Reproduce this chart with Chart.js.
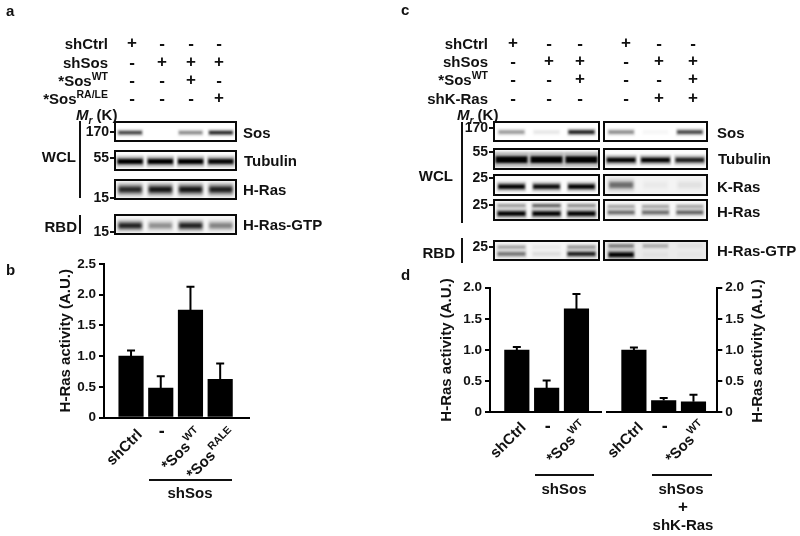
<!DOCTYPE html>
<html><head><meta charset="utf-8">
<script src="https://cdn.jsdelivr.net/npm/chart.js@4"></script>
<style>
html,body{margin:0;padding:0;background:#fff;overflow:hidden}
#page{position:relative;width:800px;height:536px;overflow:hidden;filter:blur(.3px)}
canvas{position:absolute;left:0;top:0}
.t{position:absolute;font:bold 15px "Liberation Sans",Arial,sans-serif;line-height:1;color:#111;white-space:nowrap}
.t sup{font-size:10.5px;line-height:0;vertical-align:baseline;position:relative;top:-6px}
.r{position:absolute;background:#111}
</style></head><body><div id="page"></div>
<script>
// ---- bar data ----
const labelsB=['shCtrl','-','*Sos','*Sos'];
const supB=['','','WT','RALE'];
const valuesB=[1.0,0.48,1.75,0.62];
const errorsB=[0.09,0.19,0.38,0.26];
const ticksB=[0,0.5,1,1.5,2,2.5];
const labelsD=['shCtrl','-','*Sos'];
const supD=['','','WT'];
const valuesD1=[1.0,0.39,1.66];
const errorsD1=[0.05,0.12,0.24];
const valuesD2=[1.0,0.19,0.17];
const errorsD2=[0.04,0.04,0.11];
const ticksD=[0,0.5,1,1.5,2];
// ---- treatment rows ----
const rowsA=[['shCtrl','+','-','-','-'],['shSos','-','+','+','+'],['*Sos<sup>WT</sup>','-','-','+','-'],['*Sos<sup>RA/LE</sup>','-','-','-','+']];
const rowsC=[['shCtrl','+','-','-','+','-','-'],['shSos','-','+','+','-','+','+'],['*Sos<sup>WT</sup>','-','-','+','-','-','+'],['shK-Ras','-','-','-','-','+','+']];
// ---- blot band intensities per lane ----
const sosA=[.7,0,.4,.85], tubA=[1,1,1,.95], hrasA=[.8,.9,.9,.85], gtpA=[.85,.35,.85,.4];
const sosC1=[.35,.08,.9], sosC2=[.4,.03,.7];
const tubC1=[1,1,1], tubC2=[1,1,.85];
const krasC1=[1,.95,1], krasC2=[.5,.03,.06];
const hrasUpC1=[.35,.6,.4], hrasLoC1=[1,1,1], hrasUpC2=[.3,.3,.3], hrasLoC2=[.5,.5,.55];
const gtpUpC1=[.3,.05,.35], gtpLoC1=[.45,.08,.85], gtpUpC2=[.45,.25,.04], gtpLoC2=[1,.03,.02];

const page=document.getElementById('page');
const FONT='"Liberation Sans",Arial,sans-serif';
Chart.defaults.animation=false;
Chart.defaults.responsive=false;
Chart.defaults.devicePixelRatio=1;
Chart.defaults.plugins.legend.display=false;
Chart.defaults.plugins.tooltip.enabled=false;
function cv(){const c=document.createElement('canvas');c.width=800;c.height=536;page.appendChild(c);return c;}
function txt(x,y,html,al,size,rot){const e=document.createElement('div');e.className='t';e.innerHTML=html;
  e.style.left=x+'px';e.style.top=y+'px';
  const tx=al==='r'?'-100%':al==='c'?'-50%':'0';
  e.style.transform=`translate(${tx},-50%)`+(rot?` rotate(${rot}deg)`:'');
  if(size)e.style.fontSize=size+'px';page.appendChild(e);return e;}
function rule(x,y,w,h){const e=document.createElement('div');e.className='r';e.style.cssText+=`left:${x}px;top:${y}px;width:${w}px;height:${h}px`;page.appendChild(e);}

// one western-blot panel drawn as floating bars (a soft halo plus a dark core per band)
function blot(o){
  const axisW=o.marker?32:0;
  const bar=o.bar||.84;
  const datasets=[];
  o.bands.forEach(b=>{
    datasets.push({data:b.v.map(()=>[b.c-b.h*1.1,b.c+b.h*1.1]),
      backgroundColor:b.v.map(i=>`rgba(0,0,0,${i*(o.halo||.25)})`),
      borderWidth:0,barPercentage:bar*1.05,categoryPercentage:1,grouped:false});
    datasets.push({data:b.v.map(()=>[b.c-b.h/2,b.c+b.h/2]),
      backgroundColor:b.v.map(i=>`rgba(0,0,0,${i})`),
      borderWidth:0,barPercentage:bar*.97,categoryPercentage:1,grouped:false});
  });
  new Chart(cv(),{type:'bar',data:{labels:o.bands[0].v.map((_,i)=>'Lane '+(i+1)),datasets},
   options:{layout:{padding:{left:o.x0-axisW,right:800-o.x1,top:o.y0,bottom:536-o.y1}},
    scales:{x:{display:false},
     y:{display:!!o.marker,min:0,max:1,
       afterFit:s=>{s.width=axisW;},
       afterBuildTicks:s=>{s.ticks=o.marker?[{value:o.marker[1]}]:[];},
       border:{display:false},
       grid:{drawOnChartArea:false,drawTicks:true,tickLength:5,tickColor:'#111',lineWidth:2},
       ticks:{padding:1,color:'#111',autoSkip:false,font:{family:FONT,weight:'bold',size:14},callback:()=>o.marker?o.marker[0]:''}}}},
   plugins:[{id:'frame',
     beforeDatasetsDraw(c){const a=c.chartArea,x=c.ctx;x.save();x.fillStyle=o.bg;x.fillRect(a.left,a.top,a.width,a.height);x.filter=`blur(${o.blur||1}px)`;},
     afterDatasetsDraw(c){const a=c.chartArea,x=c.ctx;x.restore();x.save();x.strokeStyle='#0a0a0a';x.lineWidth=2;x.strokeRect(a.left,a.top,a.width,a.height);x.restore();}}]});
}
// one bar panel with upward error bars and rotated labels
function bars(o){
  const right=!!o.right;
  const pad=right?{left:o.x0,right:800-o.x1-o.axisW,top:o.y0,bottom:536-o.y1}:{left:o.x0-o.axisW,right:800-o.x1,top:o.y0,bottom:536-o.y1};
  new Chart(cv(),{type:'bar',
   data:{datasets:[{data:o.values.map((v,i)=>({x:i,y:v})),backgroundColor:'#000',barThickness:24.5}]},
   options:{layout:{padding:pad},
    scales:{
     x:{type:'linear',offset:false,min:o.xmin,max:o.xmax,afterFit:s=>{s.height=0;},ticks:{display:false},grid:{display:false},border:{color:'#000',width:2}},
     y:{position:right?'right':'left',min:0,max:o.max,afterFit:s=>{s.width=o.axisW;},
       afterBuildTicks:s=>{s.ticks=o.ticks.map(v=>({value:v}));},
       border:{color:'#000',width:2},
       grid:{drawOnChartArea:false,drawTicks:true,tickLength:5,tickColor:'#000',lineWidth:2},
       title:right?{display:false}:{display:true,text:'H-Ras activity (A.U.)',color:'#111',font:{family:FONT,weight:'bold',size:15},padding:0},
       ticks:{padding:3,color:'#111',autoSkip:false,font:{family:FONT,weight:'bold',size:13.5},callback:v=>v===0?'0':v.toFixed(1)}}}},
   plugins:[{id:'extras',afterDatasetsDraw(c){
     const x=c.ctx,sx=c.scales.x,sy=c.scales.y;
     x.save();x.strokeStyle='#000';x.lineWidth=2;
     o.values.forEach((v,i)=>{const px=sx.getPixelForValue(i),a=sy.getPixelForValue(v),b=sy.getPixelForValue(v+o.errors[i]);
       x.beginPath();x.moveTo(px,a);x.lineTo(px,b);x.moveTo(px-4,b);x.lineTo(px+4,b);x.stroke();});
     x.restore();
     x.save();x.fillStyle='#111';
     o.labels.forEach((l,i)=>{const px=sx.getPixelForValue(i),py=sy.bottom;
       if(l==='-'){x.font='bold 18px '+FONT;x.textAlign='center';x.textBaseline='middle';x.fillText(l,px+1,py+15);return;}
       x.save();x.translate(px+o.dx[i],py+o.dy);x.rotate(-Math.PI/4);
       x.textBaseline='middle';x.textAlign='right';let end=0;
       if(o.sup[i]){x.font='bold 10.5px '+FONT;x.fillText(o.sup[i],0,-6);end=-x.measureText(o.sup[i]).width-1;}
       x.font='bold 15px '+FONT;x.fillText(l,end,0);x.restore();});
     x.restore();
     if(right){x.save();x.fillStyle='#111';x.font='bold 15px '+FONT;x.textAlign='center';x.textBaseline='middle';
       x.translate(758,(sy.top+sy.bottom)/2+1);x.rotate(-Math.PI/2);x.fillText('H-Ras activity (A.U.)',0,0);x.restore();}
   }}]});
}

// panel letters
txt(6,10,'a');txt(6,269,'b');txt(401,9,'c');txt(401,274,'d');

// panel a
const yRowA=[43,62,80,98],xLaneA=[132,162,191,219];
rowsA.forEach((r,i)=>{txt(108,yRowA[i],r[0],'r');r.slice(1).forEach((s,j)=>txt(xLaneA[j],yRowA[i]-(s==='-'?0:1),s,'c',17));});
txt(76,114,'<i>M<sub style="font-size:10px;line-height:0">r</sub></i> (K)');
rule(79,121,2,77);rule(79,215,2,19);
txt(76,156,'WCL','r');txt(77,226,'RBD','r');
[['Sos',243,132],['Tubulin',244,160],['H-Ras',243,189],['H-Ras-GTP',243,224]].forEach(a=>txt(a[1],a[2],a[0]));
const ax0=115,ax1=236;
blot({x0:ax0,x1:ax1,y0:122,y1:141,bg:'#ffffff',marker:['170',.47],bands:[{v:sosA,c:.44,h:.16}],blur:.9,bar:.8});
blot({x0:ax0,x1:ax1,y0:151,y1:170,bg:'#fcfcfc',marker:['55',.63],bands:[{v:tubA,c:.45,h:.27}],blur:.9,bar:.86});
blot({x0:ax0,x1:ax1,y0:180,y1:199,bg:'#f6f6f6',marker:['15',.05],bands:[{v:hrasA,c:.5,h:.3}],blur:1.8,bar:.78,halo:.35});
blot({x0:ax0,x1:ax1,y0:215,y1:234,bg:'#f6f6f6',marker:['15',.1],bands:[{v:gtpA,c:.44,h:.26}],blur:1.6,bar:.78,halo:.35});

// panel b
bars({x0:104,x1:249,y0:264,y1:417.5,max:2.5,xmin:-0.91,xmax:3.97,axisW:47,values:valuesB,errors:errorsB,labels:labelsB,sup:supB,ticks:ticksB,dx:[9,0,10,14],dy:15});
rule(149,479,83,2);txt(190,492,'shSos','c');

// panel c
const yRowC=[43,61,79,98],xLaneC=[513,549,580,626,659,693];
rowsC.forEach((r,i)=>{txt(488,yRowC[i],r[0],'r');r.slice(1).forEach((s,j)=>txt(xLaneC[j],yRowC[i]-(s==='-'?0:1),s,'c',17));});
txt(457,114,'<i>M<sub style="font-size:10px;line-height:0">r</sub></i> (K)');
rule(461,122,2,101);rule(461,238,2,25);
txt(453,175,'WCL','r');txt(455,252,'RBD','r');
[['Sos',717,132],['Tubulin',718,158],['K-Ras',717,186],['H-Ras',717,211],['H-Ras-GTP',717,250]].forEach(a=>txt(a[1],a[2],a[0]));
const c1=[494,599],c2=[604,707];
blot({x0:c1[0],x1:c1[1],y0:122,y1:141,bg:'#ffffff',marker:['170',.68],bands:[{v:sosC1,c:.47,h:.17}],blur:1,bar:.76});
blot({x0:c2[0],x1:c2[1],y0:122,y1:141,bg:'#ffffff',bands:[{v:sosC2,c:.47,h:.17}],blur:1,bar:.76});
blot({x0:c1[0],x1:c1[1],y0:149,y1:169,bg:'#fafafa',marker:['55',.85],bands:[{v:tubC1,c:.47,h:.34}],bar:.94,blur:.9});
blot({x0:c2[0],x1:c2[1],y0:149,y1:169,bg:'#fcfcfc',bands:[{v:tubC2,c:.45,h:.23}],bar:.86,blur:.9});
blot({x0:c1[0],x1:c1[1],y0:175,y1:195,bg:'#fcfcfc',marker:['25',.85],bands:[{v:krasC1,c:.42,h:.22}],bar:.78,blur:.9});
blot({x0:c2[0],x1:c2[1],y0:175,y1:195,bg:'#f4f4f4',bands:[{v:krasC2,c:.5,h:.3}],bar:.72,blur:1.6});
blot({x0:c1[0],x1:c1[1],y0:200,y1:220,bg:'#f8f8f8',marker:['25',.75],bands:[{v:hrasUpC1,c:.72,h:.13},{v:hrasLoC1,c:.32,h:.22}],bar:.82,blur:1});
blot({x0:c2[0],x1:c2[1],y0:200,y1:220,bg:'#f8f8f8',bands:[{v:hrasUpC2,c:.68,h:.13},{v:hrasLoC2,c:.38,h:.18}],bar:.8,blur:1});
blot({x0:c1[0],x1:c1[1],y0:241,y1:260,bg:'#f6f6f6',marker:['25',.68],bands:[{v:gtpUpC1,c:.68,h:.15},{v:gtpLoC1,c:.32,h:.2}],bar:.82,blur:1});
blot({x0:c2[0],x1:c2[1],y0:241,y1:260,bg:'#ebebeb',bands:[{v:gtpUpC2,c:.74,h:.15},{v:gtpLoC2,c:.28,h:.24}],bar:.75,blur:1});

// panel d
bars({x0:490,x1:601.5,y0:287.7,y1:412.3,max:2,xmin:-0.9,xmax:2.84,axisW:52,values:valuesD1,errors:errorsD1,labels:labelsD,sup:supD,ticks:ticksD,dx:[7,0,9],dy:13});
bars({right:true,x0:606.5,x1:717.3,y0:287.7,y1:412.3,max:2,xmin:-0.92,xmax:2.8,axisW:40,values:valuesD2,errors:errorsD2,labels:labelsD,sup:supD,ticks:ticksD,dx:[7,0,11],dy:13});
rule(535,474,59,2);rule(652,474,60,2);
txt(564,488,'shSos','c');txt(681,488,'shSos','c');txt(683,506,'+','c',17);txt(683,524,'shK-Ras','c');
</script></body></html>
